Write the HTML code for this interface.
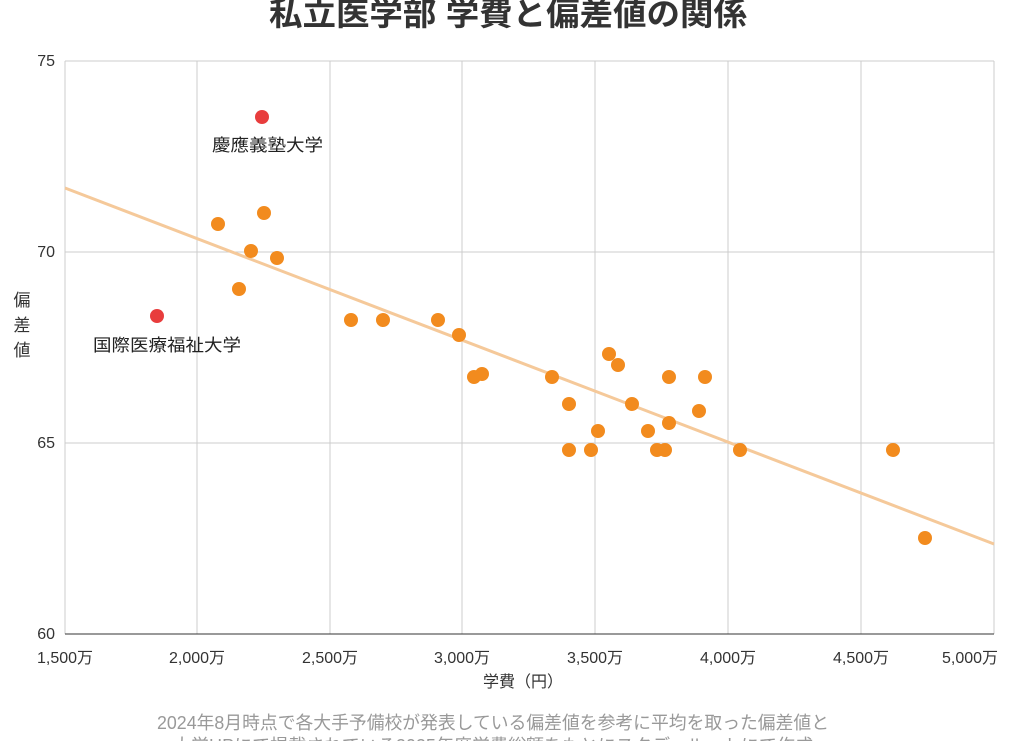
<!DOCTYPE html>
<html><head><meta charset="utf-8"><style>
body{margin:0;background:#fff;}
text{font-family:"Liberation Sans","Noto Sans CJK JP",sans-serif;}
</style></head><body>
<svg width="1024" height="741" xmlns="http://www.w3.org/2000/svg">
<rect width="1024" height="741" fill="#fff"/>
<text x="508" y="25" font-size="32" font-weight="bold" text-anchor="middle" fill="#333" textLength="478" lengthAdjust="spacingAndGlyphs">私立医学部 学費と偏差値の関係</text>
<g stroke="#cccccc" stroke-width="1">
<line x1="65" y1="61" x2="994" y2="61"/><line x1="65" y1="252" x2="994" y2="252"/><line x1="65" y1="443" x2="994" y2="443"/><line x1="65" y1="634" x2="994" y2="634"/>
<line x1="65" y1="61" x2="65" y2="634"/><line x1="197" y1="61" x2="197" y2="634"/><line x1="330" y1="61" x2="330" y2="634"/><line x1="462" y1="61" x2="462" y2="634"/><line x1="595" y1="61" x2="595" y2="634"/><line x1="728" y1="61" x2="728" y2="634"/><line x1="861" y1="61" x2="861" y2="634"/><line x1="994" y1="61" x2="994" y2="634"/>
</g>
<line x1="65" y1="634" x2="994" y2="634" stroke="#333" stroke-width="1"/>
<g font-size="16" fill="#333" text-anchor="end">
<text x="55" y="66">75</text><text x="55" y="257">70</text><text x="55" y="448">65</text><text x="55" y="639">60</text>
</g>
<g font-size="16" fill="#333" text-anchor="middle">
<text x="65" y="663">1,500万</text><text x="197" y="663">2,000万</text><text x="330" y="663">2,500万</text><text x="462" y="663">3,000万</text><text x="595" y="663">3,500万</text><text x="728" y="663">4,000万</text><text x="861" y="663">4,500万</text><text x="970" y="663">5,000万</text>
<text x="523" y="687">学費（円）</text>
<text x="22" y="306" font-size="17">偏</text><text x="22" y="331" font-size="17">差</text><text x="22" y="356" font-size="17">値</text>
</g>
<line x1="65" y1="188" x2="994" y2="544" stroke="#f5c99a" stroke-width="3"/>
<g fill="#f28b1e">
<circle cx="218" cy="224" r="7"/><circle cx="264" cy="213" r="7"/><circle cx="251" cy="251" r="7"/><circle cx="277" cy="258" r="7"/><circle cx="239" cy="289" r="7"/><circle cx="351" cy="320" r="7"/><circle cx="383" cy="320" r="7"/><circle cx="438" cy="320" r="7"/><circle cx="459" cy="335" r="7"/><circle cx="474" cy="377" r="7"/><circle cx="482" cy="374" r="7"/><circle cx="552" cy="377" r="7"/><circle cx="569" cy="404" r="7"/><circle cx="569" cy="450" r="7"/><circle cx="598" cy="431" r="7"/><circle cx="591" cy="450" r="7"/><circle cx="609" cy="354" r="7"/><circle cx="618" cy="365" r="7"/><circle cx="632" cy="404" r="7"/><circle cx="648" cy="431" r="7"/><circle cx="657" cy="450" r="7"/><circle cx="665" cy="450" r="7"/><circle cx="669" cy="377" r="7"/><circle cx="669" cy="423" r="7"/><circle cx="699" cy="411" r="7"/><circle cx="705" cy="377" r="7"/><circle cx="740" cy="450" r="7"/><circle cx="893" cy="450" r="7"/><circle cx="925" cy="538" r="7"/>
</g>
<g fill="#e83d3d"><circle cx="262" cy="117" r="7"/><circle cx="157" cy="316" r="7"/></g>
<g font-size="17" fill="#222">
<text x="212" y="151" textLength="111" lengthAdjust="spacingAndGlyphs">慶應義塾大学</text>
<text x="93" y="351" textLength="148" lengthAdjust="spacingAndGlyphs">国際医療福祉大学</text>
</g>
<g font-size="18" fill="#999" text-anchor="middle">
<text x="493" y="729" textLength="672" lengthAdjust="spacingAndGlyphs">2024年8月時点で各大手予備校が発表している偏差値を参考に平均を取った偏差値と</text>
<text x="493" y="752" textLength="640" lengthAdjust="spacingAndGlyphs">大学HPにて掲載されている2025年度学費総額をもとにスタディルートにて作成</text>
</g>
</svg>
</body></html>
